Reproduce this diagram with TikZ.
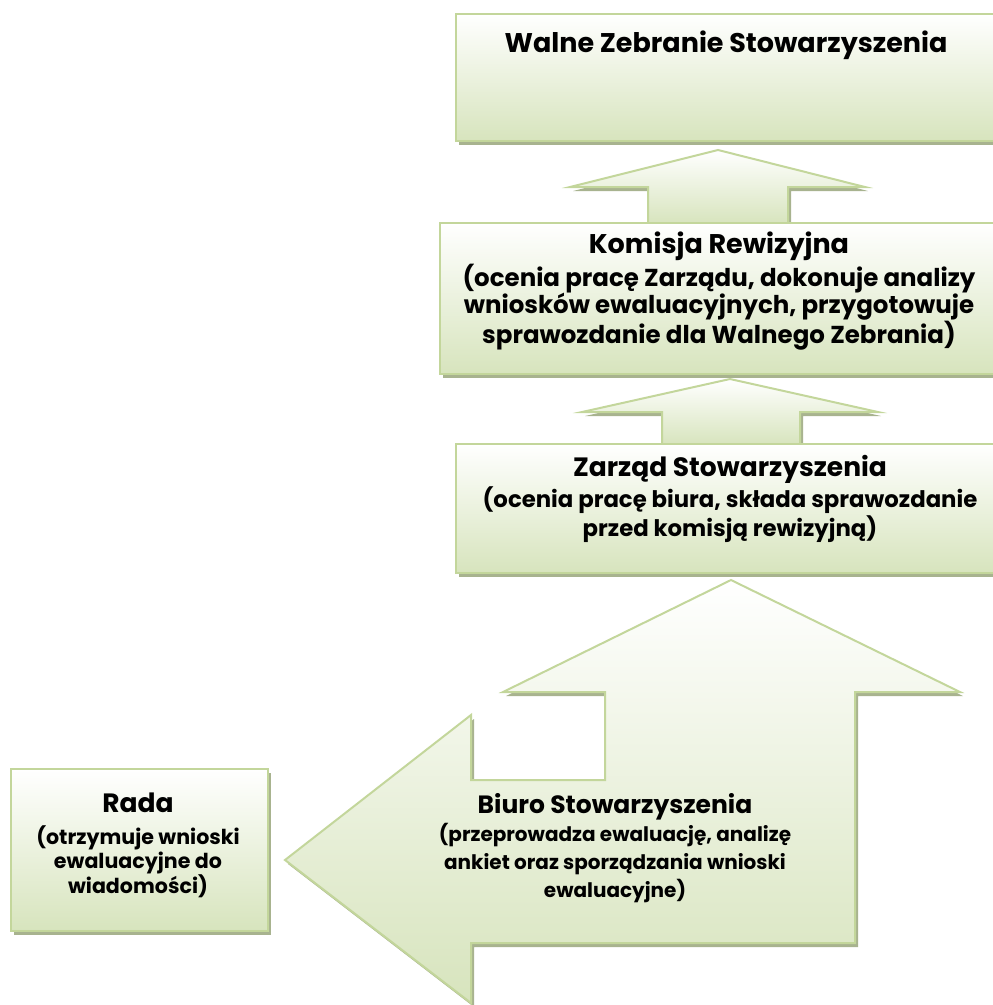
\documentclass[tikz,border=0pt]{standalone}
\usepackage{fontspec}
\setmainfont{Poppins}
\usetikzlibrary{shadows}
\definecolor{edgegreen}{HTML}{C3D69B}
\definecolor{fillgreen}{HTML}{D7E4BD}
\definecolor{shadegreen}{HTML}{A8B38F}
\tikzset{
  panel/.style={draw=edgegreen, line width=2pt, top color=white, bottom color=fillgreen,
    drop shadow={shadow xshift=3pt, shadow yshift=-4pt, fill=shadegreen, opacity=1}},
  box/.style={panel, anchor=north west, inner sep=0pt},
  body/.style 2 args={font=\bfseries\fontsize{#1}{#2}\selectfont, align=center, inner sep=0pt},
}
\newcommand{\headline}[2]{{\fontsize{#1}{#1}\selectfont #2}}
\begin{document}
\begin{tikzpicture}[x=1pt, y=-1pt]
  \useasboundingbox (0,0) rectangle (993,1005);
  \clip (0,0) rectangle (993,1005);
  % arrows between the levels
  \path[panel] (718,150) -- (865,187) -- (788,187) -- (788,224) -- (648,224) -- (648,187) -- (570,187) -- cycle;
  \path[panel] (730,379) -- (878,412) -- (800,412) -- (800,445) -- (662,445) -- (662,412) -- (582,412) -- cycle;
  \path[panel] (731,580) -- (960,692) -- (855,692) -- (855,943) -- (471,943) -- (471,1003)
    -- (285,860) -- (471,715) -- (471,780) -- (605,780) -- (605,692) -- (503,692) -- cycle;
  % boxes
  \node[box, minimum width=550pt, minimum height=127pt] (walne) at (455,13) {};
  \node[box, minimum width=565pt, minimum height=151pt] (komisja) at (439,222) {};
  \node[box, minimum width=560pt, minimum height=129pt] (zarzad) at (455,443) {};
  \node[box, minimum width=257pt, minimum height=162pt] (rada) at (10,768) {};
  % texts
  \node[body={27}{32}] (walnetxt) at (726,45) {Walne Zebranie Stowarzyszenia};
  \node[body={24.5}{27}] (komisjatxt) at (719,291) {\headline{27}{Komisja Rewizyjna}\\[2pt]
    (ocenia pracę Zarządu, dokonuje analizy\\
    wniosków ewaluacyjnych, przygotowuje\\
    sprawozdanie dla Walnego Zebrania)};
  \node[body={22.8}{29}] (zarzadtxt) at (730,499) {\headline{26.5}{Zarząd Stowarzyszenia}\\[2pt]
    (ocenia pracę biura, składa sprawozdanie\\
    przed komisją rewizyjną)};
  \node[body={20}{28}] (biurotxt) at (615,848) {\headline{25}{Biuro Stowarzyszenia}\\
    (przeprowadza ewaluację, analizę\\
    ankiet oraz sporządzania wnioski\\
    ewaluacyjne)};
  \node[body={20.6}{24}] (radatxt) at (138,845) {\headline{26.5}{Rada}\\[8pt]
    (otrzymuje wnioski\\
    ewaluacyjne do\\
    wiadomości)};
\end{tikzpicture}
\end{document}
